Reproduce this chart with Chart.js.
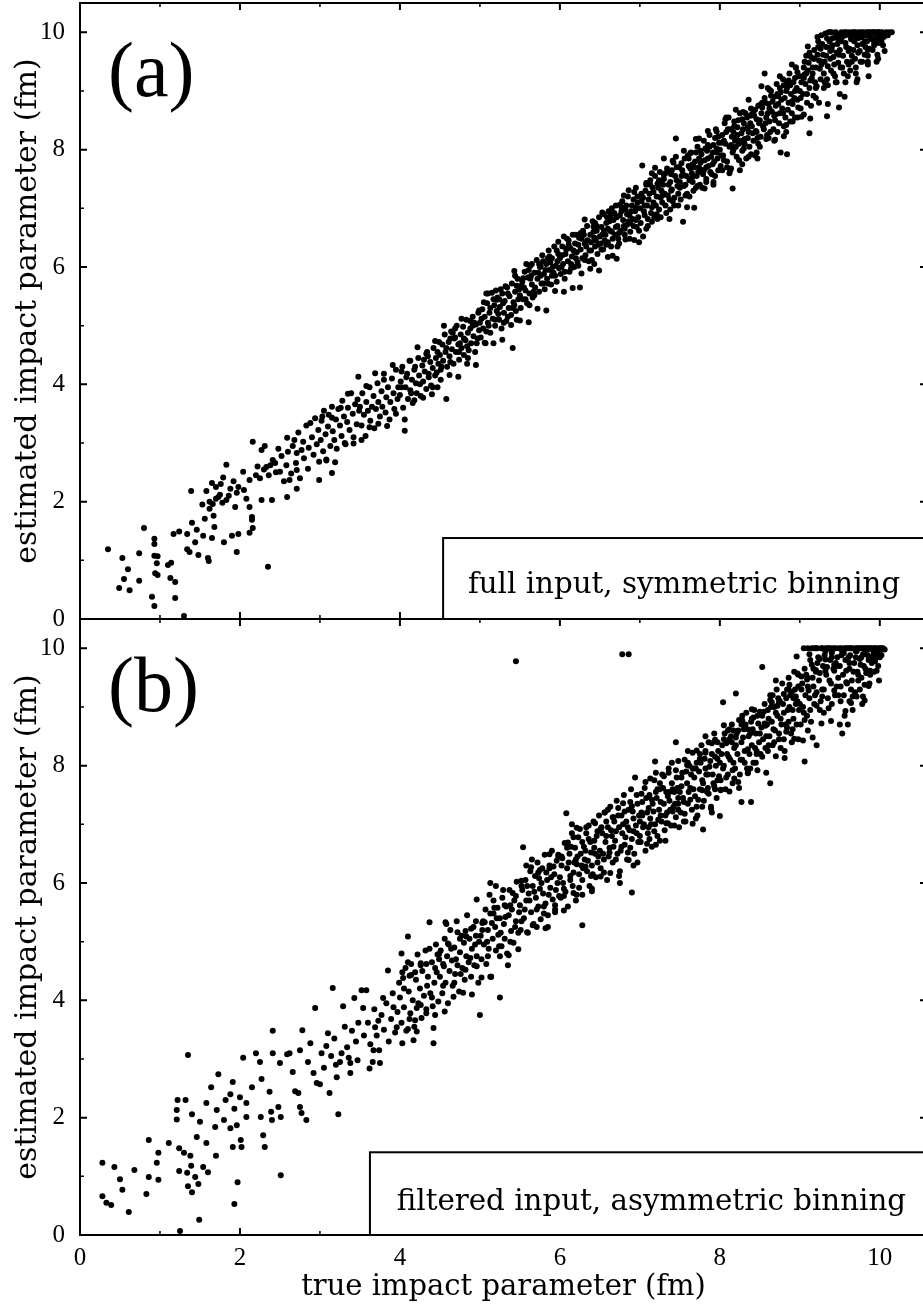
<!DOCTYPE html>
<html><head><meta charset="utf-8">
<script src="https://cdn.jsdelivr.net/npm/chart.js@4.4.1/dist/chart.umd.min.js"></script>
<style>
html,body{margin:0;padding:0;background:#fff;overflow:hidden;width:923px;height:1311px;}
#wrap{position:relative;width:923px;height:1311px;overflow:hidden;background:#fff;}
canvas{position:absolute;left:0;}
#ca{top:0;} #cb{top:600px;}
</style></head><body>
<div id="wrap"><canvas id="ca" width="940" height="640"></canvas><canvas id="cb" width="940" height="711"></canvas></div>
<script>
// ---- tick labels / texts ----
const xMajorTicks=[0,2,4,6,8,10];
const xMinorTicks=[1,3,5,7,9];
const yMajorTicks=[0,2,4,6,8,10];
const yMinorTicks=[1,3,5,7,9];
const panelLabels=['(a)','(b)'];
const boxTexts=['full input, symmetric binning','filtered input, asymmetric binning'];
const xTitle='true impact parameter (fm)';
const yTitle='estimated impact parameter (fm)';

// ---- panel (a): [true b, estimated b] ----
const aSparse=[[0.35,1.19],[0.53,1.04],[0.60,0.85],[0.55,0.68],[0.49,0.53],[0.62,0.49],[0.74,1.12],[0.74,0.65],[0.80,1.55],[0.93,1.37],[0.93,1.28],[0.93,1.08],[0.97,1.07],[0.96,0.95],[0.94,0.78],[0.97,0.75],[0.90,0.38],[0.93,0.22],[1.10,0.92],[1.14,0.96],[1.13,0.70],[1.19,0.63],[1.19,0.36],[1.30,0.05],[1.17,1.45],[1.24,1.49],[1.39,2.18],[1.34,1.45],[1.34,1.19],[1.37,1.14],[1.44,1.31],[1.40,1.64],[1.48,1.09],[1.46,1.52],[1.54,1.42],[1.60,1.04],[1.61,0.99],[1.56,1.71],[1.65,1.38],[1.68,1.57],[1.67,1.76],[1.80,1.31],[1.90,1.42],[1.96,1.14],[1.98,1.45],[2.35,0.89],
[1.53,1.95],[1.65,2.32],[1.58,2.18],[1.79,2.41],[1.83,2.63],[1.73,2.08],[1.83,2.03],[1.94,1.91],[1.96,2.15],[1.98,2.25],[2.12,1.91],[2.15,1.74],[2.15,1.69],[2.16,1.55],[2.12,1.47],[2.16,3.02],[2.04,2.51],[2.12,2.37],[2.27,2.88],[2.27,2.03],[2.40,2.03],[2.31,2.95],[2.44,2.66],[2.48,2.90],[2.59,3.09],[2.59,2.08],[2.71,2.22],[2.71,2.54],[2.71,2.83],[2.62,2.37],[2.50,2.51],[2.41,2.71],[2.33,2.59],
[1.62,2.00],[1.66,1.96],[1.70,2.05],[1.75,2.12],[1.78,1.98],[1.86,2.10],[1.88,2.22],[1.92,2.35],[1.70,2.25],[1.62,1.88],[1.76,2.30],[2.05,2.20],[2.08,2.05],[2.20,2.45],[2.22,2.60],[2.25,2.40],[2.30,2.55],[2.36,2.45],[2.38,2.62],[2.45,2.50]];

const aBand=[[2.52,2.78],[2.55,2.35],[2.58,2.62],[2.60,2.85],[2.64,2.48],[2.66,2.95],[2.68,3.05],[2.70,2.66],[2.73,3.18],[2.75,2.40],[2.77,2.88],[2.79,3.02],[2.80,2.74],[2.83,3.30],[2.85,2.56],[2.86,2.92],[2.88,3.34],[2.90,3.10],[2.92,2.80],[2.94,3.42],[2.96,2.98],[2.98,3.22],[2.99,2.68],[2.99,2.37],[3.15,2.49],
[3.01,3.05],[3.02,3.38],[3.04,2.86],[3.05,3.55],[3.07,3.15],[3.08,2.72],[3.10,3.28],[3.11,3.48],[3.13,2.95],[3.15,3.62],[3.16,3.20],[3.18,3.05],[3.20,3.40],[3.21,2.90],[3.23,3.58],[3.25,3.30],[3.27,3.12],[3.28,3.72],[3.30,3.45],[3.32,2.98],[3.34,3.36],[3.35,3.60],[3.37,3.22],[3.39,3.85],[3.41,3.50],[3.42,3.10],[3.44,3.66],[3.46,3.32],[3.48,4.13],[3.49,3.55],
[3.50,3.62],[3.52,3.30],[3.53,3.85],[3.55,3.48],[3.57,3.12],[3.58,3.70],[3.60,3.55],[3.62,3.95],[3.63,3.38],[3.65,3.62],[3.67,3.80],[3.68,3.25],[3.70,3.58],[3.72,4.02],[3.73,3.70],[3.75,3.45],[3.77,3.88],[3.78,3.62],[3.80,4.18],[3.82,3.52],[3.83,3.78],[3.85,3.95],[3.87,3.40],[3.88,3.70],[3.90,4.10],[3.92,3.85],[3.93,3.58],[3.95,4.25],[3.97,3.75],[3.98,3.95],
[4.00,3.82],[4.01,4.05],[4.03,4.30],[4.04,3.60],[4.06,3.21],[4.07,3.95],[4.09,4.18],[4.10,3.75],[4.12,4.40],[4.13,3.90],[4.15,4.08],[4.16,3.68],[4.18,4.25],[4.20,4.02],[4.21,3.85],[4.23,4.45],[4.24,4.15],[4.26,3.80],[4.28,4.32],[4.29,4.05],[4.31,4.22],[4.33,3.92],[4.34,4.55],[4.36,4.12],[4.38,4.38],[4.39,3.98],[4.41,4.28],[4.42,4.62],[4.44,4.15],[4.45,4.45],[4.47,3.95],[4.48,4.35],[4.49,4.72],[4.46,4.20],[4.35,4.48],
[4.50,4.50],[4.51,4.25],[4.53,4.68],[4.54,4.40],[4.56,4.85],[4.58,3.75],[4.57,4.55],[4.59,4.30],[4.61,4.72],[4.62,4.48],[4.64,4.90],[4.65,4.60],[4.67,4.35],[4.68,4.78],[4.70,4.55],[4.71,5.00],[4.73,4.68],[4.74,4.42],[4.76,4.85],[4.77,4.62],[4.79,4.98],[4.80,4.50],[4.82,4.75],[4.83,5.10],[4.85,4.88],[4.86,4.58],[4.88,4.95],[4.89,4.70],[4.91,5.15],[4.92,4.82],[4.94,4.55],[4.95,5.02],[4.97,4.78],[4.98,5.22],[4.99,4.92],[4.63,4.78],[4.69,4.95],[4.75,4.70],[4.84,4.65],[4.93,5.05],
[5.00,5.05],[5.01,4.80],[5.03,5.28],[5.04,4.95],[5.06,5.15],[5.07,4.70],[5.09,5.38],[5.10,5.05],[5.12,5.22],[5.13,4.88],[5.15,5.56],[5.16,5.12],[5.18,5.35],[5.19,5.00],[5.21,5.25],[5.22,5.48],[5.24,5.10],[5.25,5.32],[5.27,4.95],[5.28,5.55],[5.30,5.22],[5.31,5.42],[5.33,5.08],[5.34,5.65],[5.36,5.30],[5.37,5.50],[5.39,5.18],[5.40,5.72],[5.41,4.62],[5.42,5.40],[5.44,5.58],[5.45,5.25],[5.47,5.80],[5.48,5.45],[5.49,5.62],[5.05,5.40],[5.11,5.00],[5.17,5.45],[5.23,5.20],[5.29,5.38],[5.35,5.15],[5.43,5.35],[5.46,5.68],[5.20,5.60],
[5.50,5.52],[5.51,5.30],[5.53,5.75],[5.54,5.45],[5.56,5.92],[5.57,5.60],[5.59,5.38],[5.60,5.82],[5.62,5.55],[5.63,6.02],[5.65,5.70],[5.66,5.48],[5.68,5.90],[5.69,5.65],[5.71,6.12],[5.72,5.80],[5.74,5.58],[5.75,6.00],[5.77,5.72],[5.78,6.20],[5.80,5.88],[5.81,5.62],[5.83,6.05],[5.84,5.80],[5.86,6.28],[5.87,5.95],[5.89,5.70],[5.90,6.15],[5.92,5.90],[5.93,6.35],[5.95,6.02],[5.96,5.75],[5.98,6.22],[5.99,5.98],[5.55,5.65],[5.61,5.95],[5.67,5.58],[5.73,5.90],[5.79,6.10],[5.85,5.72],[5.91,6.00],[5.97,6.10],[5.64,5.85],[5.76,5.85],[5.82,5.95],[5.88,6.08],[5.94,5.85],[5.58,6.05],
[6.00,6.15],[6.01,5.88],[6.03,6.35],[6.04,6.05],[6.06,5.80],[6.07,6.22],[6.09,6.48],[6.10,6.10],[6.12,5.92],[6.13,6.32],[6.15,6.18],[6.16,6.55],[6.18,6.00],[6.19,6.40],[6.21,6.25],[6.22,6.08],[6.24,6.50],[6.25,5.65],[6.26,6.30],[6.28,6.15],[6.29,6.62],[6.31,6.40],[6.32,6.20],[6.34,6.70],[6.35,6.45],[6.37,6.28],[6.38,6.55],[6.40,6.12],[6.41,6.78],[6.43,6.50],[6.44,6.35],[6.46,6.62],[6.47,6.22],[6.49,6.85],[6.50,6.52],[6.02,6.00],[6.08,6.30],[6.14,6.05],[6.20,6.15],[6.23,6.38],[6.27,6.48],[6.33,6.35],[6.36,6.10],[6.39,6.42],[6.42,6.60],[6.45,6.45],[6.48,6.38],[6.11,6.45],[6.17,6.28],[6.30,6.55],[6.44,6.75],[6.05,6.52],
[6.51,6.40],[6.52,6.68],[6.54,6.30],[6.55,6.90],[6.57,6.55],[6.58,6.75],[6.60,6.42],[6.61,6.95],[6.63,6.62],[6.64,6.35],[6.66,6.19],[6.67,6.80],[6.69,6.55],[6.70,7.05],[6.72,6.70],[6.73,6.48],[6.75,6.88],[6.76,6.62],[6.78,7.12],[6.79,6.80],[6.81,6.55],[6.82,6.98],[6.84,6.72],[6.85,7.20],[6.87,6.88],[6.88,6.60],[6.90,7.05],[6.91,6.82],[6.93,7.28],[6.94,6.95],[6.96,6.68],[6.97,7.10],[6.99,6.42],[6.53,6.55],[6.56,6.45],[6.59,6.85],[6.62,6.78],[6.65,6.60],[6.68,6.92],[6.71,6.85],[6.74,6.58],[6.77,6.95],[6.80,6.70],[6.83,7.05],[6.86,6.78],[6.89,6.95],[6.92,6.70],[6.95,7.02],[6.98,6.85],[6.65,7.00],[6.72,6.35],[6.80,7.22],[6.87,6.48],[6.95,7.35],[6.60,6.65],
[7.00,7.00],[7.01,6.75],[7.03,7.73],[7.04,7.18],[7.06,6.88],[7.07,7.30],[7.09,7.05],[7.10,6.70],[7.12,7.25],[7.13,7.48],[7.15,7.02],[7.16,7.35],[7.18,6.85],[7.19,7.55],[7.21,7.20],[7.22,7.42],[7.24,6.98],[7.25,7.62],[7.27,7.30],[7.28,7.10],[7.30,7.50],[7.31,7.25],[7.33,6.92],[7.34,7.68],[7.36,7.40],[7.37,7.15],[7.39,7.58],[7.40,7.32],[7.42,7.78],[7.43,7.05],[7.45,8.19],[7.46,7.48],[7.48,7.25],[7.49,7.70],[7.02,7.12],[7.05,6.95],[7.08,7.40],[7.11,7.15],[7.14,6.92],[7.17,7.28],[7.20,7.05],[7.23,7.35],[7.26,7.18],[7.29,7.40],[7.32,7.60],[7.35,7.22],[7.38,7.45],[7.41,7.12],[7.44,7.55],[7.47,7.38],[7.15,7.60],[7.22,6.82],[7.30,7.85],[7.38,6.98],[7.45,7.88],[7.08,6.65],[7.26,7.45],[7.40,7.65],
[7.50,7.45],[7.51,7.15],[7.53,7.65],[7.54,6.77],[7.55,7.38],[7.56,7.85],[7.58,7.55],[7.59,7.25],[7.61,7.72],[7.62,7.48],[7.64,7.95],[7.65,7.60],[7.67,7.30],[7.68,7.01],[7.69,7.80],[7.71,7.55],[7.72,8.05],[7.74,7.70],[7.75,7.40],[7.77,7.92],[7.78,7.65],[7.80,8.15],[7.81,7.82],[7.83,7.50],[7.84,7.98],[7.86,7.72],[7.87,8.25],[7.89,7.88],[7.90,7.58],[7.92,8.08],[7.93,7.80],[7.95,8.35],[7.96,7.95],[7.98,7.65],[7.99,8.12],[7.52,7.55],[7.57,7.40],[7.60,7.90],[7.63,7.68],[7.66,7.45],[7.70,7.95],[7.73,7.62],[7.76,7.78],[7.79,7.58],[7.82,8.02],[7.85,7.85],[7.88,7.62],[7.91,7.95],[7.94,8.20],[7.97,7.85],[7.62,7.20],[7.70,8.18],[7.78,7.35],[7.85,8.32],[7.92,7.45],[7.55,7.98],[7.66,7.75],[7.74,7.85],[7.83,7.70],[7.96,8.02],
[8.00,8.00],[8.01,7.72],[8.03,8.25],[8.04,7.90],[8.06,8.45],[8.07,8.10],[8.09,7.80],[8.10,8.35],[8.12,8.05],[8.13,7.65],[8.15,8.22],[8.16,7.95],[8.16,7.34],[8.18,8.48],[8.19,8.15],[8.21,7.88],[8.22,8.38],[8.24,8.10],[8.25,8.62],[8.27,8.28],[8.28,7.98],[8.30,8.45],[8.31,8.18],[8.33,7.85],[8.34,8.55],[8.36,8.30],[8.37,8.05],[8.39,8.70],[8.40,8.40],[8.42,8.15],[8.43,8.58],[8.45,8.32],[8.46,7.95],[8.48,8.75],[8.49,8.45],[8.02,8.12],[8.05,7.82],[8.08,8.30],[8.11,8.55],[8.14,8.08],[8.17,8.30],[8.20,8.05],[8.23,8.50],[8.26,8.15],[8.29,8.35],[8.32,8.62],[8.35,8.20],[8.38,8.45],[8.41,8.28],[8.44,8.68],[8.47,8.20],[8.12,7.60],[8.20,8.68],[8.28,7.75],[8.36,8.85],[8.44,7.90],[8.08,8.55],[8.22,8.25],[8.30,8.02],[8.38,8.58],[8.46,8.52],[8.48,8.10],
[8.50,8.50],[8.51,8.22],[8.53,8.72],[8.54,8.40],[8.56,9.30],[8.56,8.88],[8.58,8.55],[8.59,8.25],[8.61,8.78],[8.62,8.48],[8.64,9.00],[8.65,8.65],[8.67,8.35],[8.68,8.90],[8.70,8.60],[8.71,9.12],[8.73,8.78],[8.74,8.45],[8.76,7.95],[8.76,8.98],[8.78,8.70],[8.79,9.20],[8.81,8.88],[8.82,8.55],[8.84,7.92],[8.84,9.05],[8.86,8.80],[8.87,9.30],[8.89,8.95],[8.90,8.62],[8.92,9.15],[8.93,8.88],[8.95,9.40],[8.96,9.05],[8.98,8.72],[8.99,9.25],[8.52,8.62],[8.55,8.35],[8.57,8.80],[8.60,8.62],[8.63,8.30],[8.66,8.82],[8.69,8.50],[8.72,8.95],[8.75,8.62],[8.77,8.85],[8.80,8.40],[8.83,9.00],[8.85,8.68],[8.88,9.10],[8.91,8.78],[8.94,9.00],[8.97,8.85],[8.60,9.05],[8.68,8.15],[8.75,9.25],[8.83,8.30],[8.90,9.45],[8.97,8.55],[8.62,8.70],[8.70,8.75],[8.80,9.10],[8.88,8.48],[8.94,9.22],[8.52,9.08],
[9.00,9.00],[9.01,8.70],[9.03,9.25],[9.04,8.95],[9.06,9.50],[9.07,9.12],[9.09,8.80],[9.10,9.76],[9.10,9.35],[9.12,8.28],[9.12,9.05],[9.14,9.58],[9.15,9.22],[9.17,8.92],[9.18,9.70],[9.20,9.40],[9.21,9.08],[9.23,9.85],[9.24,9.52],[9.26,9.20],[9.27,9.95],[9.29,9.62],[9.30,9.30],[9.32,9.98],[9.33,9.75],[9.35,9.42],[9.36,10.00],[9.38,9.68],[9.39,9.35],[9.41,9.90],[9.42,9.58],[9.44,9.25],[9.45,10.00],[9.47,9.80],[9.48,9.48],[9.49,9.95],[9.02,9.15],[9.05,8.60],[9.08,9.30],[9.11,9.48],[9.13,9.18],[9.16,9.40],[9.19,9.15],[9.22,9.62],[9.25,9.38],[9.28,9.80],[9.31,9.50],[9.34,9.20],[9.37,9.85],[9.40,9.70],[9.43,9.45],[9.46,9.65],[9.05,9.40],[9.14,8.75],[9.22,9.92],[9.30,9.05],[9.38,10.00],[9.45,9.15],[9.08,9.60],[9.18,9.55],[9.26,9.72],[9.33,9.60],[9.41,9.78],[9.48,9.88],[9.20,8.88],[9.35,9.10],[9.49,8.72],[9.34,8.57],
[9.50,9.70],[9.51,9.40],[9.53,9.92],[9.54,9.60],[9.56,10.00],[9.57,9.82],[9.59,9.50],[9.60,9.98],[9.62,9.72],[9.63,9.95],[9.65,9.60],[9.66,10.00],[9.68,9.85],[9.69,9.55],[9.71,9.98],[9.72,9.78],[9.74,10.00],[9.75,9.68],[9.77,9.92],[9.78,9.80],[9.80,10.00],[9.81,9.62],[9.83,9.95],[9.84,9.85],[9.86,10.00],[9.87,9.72],[9.89,9.96],[9.90,9.88],[9.92,10.00],[9.93,9.78],[9.95,9.98],[9.96,9.90],[9.98,10.00],[9.99,9.82],[10.01,9.96],[10.03,10.00],[10.05,9.92],[10.08,10.00],[10.15,10.00],[9.52,9.85],[9.55,9.30],[9.58,9.75],[9.61,9.45],[9.64,9.88],[9.67,9.70],[9.70,9.40],[9.73,9.90],[9.76,9.50],[9.79,9.95],[9.82,9.75],[9.85,9.60],[9.88,9.92],[9.91,9.70],[9.94,9.85],[9.97,9.62],[10.00,9.95],[9.58,10.00],[9.64,9.98],[9.70,10.00],[9.76,9.98],[9.82,9.98],[9.88,10.00],[9.94,10.00],[10.02,9.85],[9.60,9.25],[9.72,9.20],[9.85,9.45],[9.98,9.55],[9.56,8.90],[9.71,9.15],[9.86,9.25],[9.96,9.50],[10.06,9.68]];

const aEdge=[[3.03,3.45],[3.08,2.70],[3.15,3.43],[3.19,2.67],[3.26,3.60],[3.31,3.00],[3.35,3.84],[3.42,2.99],[3.47,3.74],[3.52,3.05],[3.58,3.97],[3.62,3.27],[3.69,4.19],[3.73,3.33],[3.80,4.08],[3.84,3.29],[3.91,4.33],[3.95,3.50],
[4.02,4.22],[4.06,3.40],[4.13,4.40],[4.18,3.73],[4.22,4.63],[4.29,3.77],[4.33,4.52],[4.40,3.83],[4.44,4.74],[4.51,4.08],[4.55,5.00],[4.62,4.16],[4.66,4.88],[4.73,4.13],[4.77,5.12],[4.84,4.35],[4.88,5.08],[4.95,4.33],[4.99,5.26],
[5.06,4.71],[5.10,5.55],[5.17,4.70],[5.21,5.44],[5.28,4.76],[5.32,5.67],[5.39,5.01],[5.43,5.93],[5.50,5.09],[5.54,5.81],[5.61,5.06],[5.65,6.05],[5.72,5.29],[5.76,6.01],[5.83,5.26],[5.87,6.18],[5.94,5.59],[5.98,6.43],
[6.05,5.58],[6.09,6.32],[6.16,5.64],[6.20,6.55],[6.27,5.89],[6.31,6.81],[6.38,5.97],[6.42,6.69],[6.49,5.94],[6.53,6.93],[6.60,6.17],[6.64,6.89],[6.71,6.14],[6.75,7.06],[6.82,6.47],[6.86,7.31],[6.93,6.46],[6.97,7.20],
[7.04,6.52],[7.08,7.43],[7.15,6.77],[7.19,7.69],[7.26,6.85],[7.30,7.57],[7.37,6.82],[7.41,7.81],[7.48,7.05],[7.52,7.77],[7.59,7.02],[7.63,7.94],[7.70,7.35],[7.74,8.19],[7.81,7.34],[7.85,8.08],[7.92,7.40],[7.96,8.31],
[8.03,7.65],[8.07,8.52],[8.14,7.68],[8.18,8.40],[8.25,7.65],[8.29,8.64],[8.36,7.88],[8.40,8.60],[8.47,7.85],[8.51,8.77],[8.58,8.18],[8.62,9.02],[8.69,8.17],[8.73,8.91],[8.80,8.23],[8.84,9.14],[8.91,8.48],[8.95,9.40],
[9.02,8.56],[9.06,9.28],[9.13,8.53],[9.17,9.55],[9.24,8.80],[9.28,9.50],[9.35,8.78],[9.39,9.75],[9.46,9.15],[9.50,8.95],[9.57,9.15],[9.63,9.35],[9.70,9.30],[9.78,9.50],[9.85,9.50]];

const aFill=[[4.02,3.95],[4.08,4.12],[4.14,3.85],[4.19,4.30],[4.25,4.00],[4.30,4.42],[4.36,4.18],[4.41,3.95],[4.47,4.55],[4.52,4.30],[4.58,4.62],[4.63,4.38],[4.69,4.80],[4.74,4.55],[4.80,4.78],[4.85,4.45],[4.91,5.00],[4.96,4.70],[5.02,5.12],[5.08,4.90],[5.13,5.30],[5.19,5.10],[5.24,5.45],[5.30,5.05],[5.35,5.55],[5.41,5.30],[5.46,5.10],[5.52,5.68],[5.57,5.45],[5.63,5.80],[5.68,5.52],[5.74,6.05],[5.79,5.72],[5.85,6.15],[5.90,5.85],[5.96,6.28],[5.62,5.35],[5.44,5.85],[5.26,5.62],[5.08,5.55],
[6.03,6.20],[6.06,5.92],[6.11,6.38],[6.14,5.98],[6.19,6.25],[6.23,6.02],[6.26,6.58],[6.31,6.12],[6.34,6.45],[6.39,6.28],[6.43,6.05],[6.46,6.70],[6.52,6.30],[6.55,6.62],[6.58,6.38],[6.63,6.85],[6.66,6.48],[6.70,6.68],[6.74,6.40],[6.77,7.02],[6.81,6.65],[6.84,6.90],[6.88,6.75],[6.92,7.15],[6.95,6.80],[6.99,6.62],[7.02,7.25],[7.06,7.05],[7.10,6.82],[7.13,7.40],[7.17,7.10],[7.21,6.90],[7.24,7.48],[7.28,7.22],[7.32,7.05],[7.35,7.62],[7.39,7.30],[7.43,7.18],[7.46,7.70],[7.50,7.35],[7.54,7.58],[7.57,7.22],[7.61,7.85],[7.65,7.52],[7.68,7.70],[7.72,7.38],[7.76,7.98],[7.80,7.65],[7.83,7.45],[7.87,8.05],[7.91,7.75],[7.94,7.55],[7.98,8.22],[8.02,7.90],[8.05,8.15],[8.09,7.70],[8.13,8.35],[8.17,8.00],[8.20,8.20],[8.24,7.82],[8.28,8.52],[8.31,8.10],[8.35,8.38],[8.39,7.92],[8.42,8.65],[8.46,8.30],[8.50,8.05],[8.53,8.80],[8.57,8.45],[8.61,8.20],[8.64,8.92],[8.68,8.58],[8.72,8.30],[8.75,9.05],[8.79,8.62],[8.83,8.42],[8.86,9.18],[8.90,8.82],[8.94,8.55],[8.97,9.32],[9.01,8.88],[9.05,9.22],[9.09,8.95],[9.12,9.65],[9.16,9.30],[9.20,9.05],[9.23,9.75],[9.27,9.45],[9.31,9.15],[9.34,9.90],[9.38,9.55],[9.42,9.30],[9.45,9.92],[9.49,9.62],[9.53,9.40],[9.57,9.95],[9.61,9.68],[9.65,9.50],[9.69,9.92],[9.73,9.65],[9.77,10.00],[9.81,9.85],[9.85,9.70],[9.89,9.95],[9.93,9.82],[9.97,10.00],[10.01,9.90],[10.04,9.78],[10.10,9.95],[9.40,10.00],[9.52,10.00],[9.62,10.00],[9.68,10.00],[9.84,10.00],[9.91,10.00],[10.00,10.00],[10.12,10.00]];

// ---- panel (b): [true b, estimated b] ----
const bSparse=[[0.28,1.23],[0.28,0.66],[0.33,0.55],[0.39,0.51],[0.43,1.16],[0.50,0.95],[0.53,0.77],[0.61,0.39],[0.68,1.11],[0.83,0.70],[0.86,0.99],[0.86,1.62],[0.96,1.23],[0.98,1.40],[0.98,0.94],[1.11,1.57],[1.22,2.30],[1.32,2.30],[1.21,2.13],[1.21,1.97],[1.35,3.07],[1.24,1.48],[1.30,1.40],[1.24,1.09],[1.34,1.06],[1.38,1.35],[1.39,1.18],[1.35,0.83],[1.40,0.73],[1.40,2.06],[1.44,0.99],[1.48,0.87],[1.49,0.26],[1.25,0.07],[1.46,1.67],[1.50,1.93],[1.54,1.16],[1.58,1.57],[1.60,1.07],[1.58,2.25],[1.64,2.52],[1.69,1.84],[1.70,1.35],[1.73,2.74],[1.71,2.13],[1.80,1.96],[1.82,2.30],[1.88,1.82],[1.91,1.50],[1.93,0.53],[1.97,0.90],[2.02,1.50],[2.01,1.62],[1.91,2.61],[1.93,2.15],[1.88,2.40],[1.96,1.87],[2.04,3.02],[2.00,2.35],[2.08,2.01],[2.08,2.25],[2.15,2.52],[2.20,3.10],[2.25,2.95],[2.27,2.66],[2.26,2.01],[2.29,1.70],[2.31,1.50],[2.37,2.44],[2.39,2.10],[2.40,1.96],[2.41,3.10],[2.41,3.48],[2.50,2.93],[2.51,1.02],[2.51,2.01],[2.48,2.18],[2.59,3.08],[2.62,3.10],[2.66,2.78],[2.69,2.45],[2.73,2.42],[2.75,2.18],[2.77,2.08],[2.83,1.96],[2.75,3.15],[2.78,3.49],[2.88,3.27],[2.85,2.95],[2.92,2.76],[2.94,3.87],[2.96,2.59],[3.00,2.57],[3.02,3.10],[3.08,3.22],[3.10,3.44],[3.12,2.42],[3.16,4.21],[3.20,2.90],[3.23,2.06],[3.21,2.69],[3.25,2.95],[3.29,3.90],[3.34,3.20],[3.38,2.76],[3.38,2.93],[3.43,4.04],[3.52,4.17],[3.58,4.17],[3.54,3.87],[3.62,2.84],[3.66,2.95],[3.67,3.15],[3.69,3.54],[3.73,3.65],[3.75,2.93],[3.79,4.04],[3.85,4.51],[3.92,3.88],[3.96,3.54],[4.03,3.27],[4.10,5.09],[4.02,4.80],[4.10,4.65],[4.17,3.32],[4.19,3.66],[4.21,3.87],[4.37,5.33],[4.42,3.53],[4.42,3.27],[4.57,5.33],[5.14,4.40],[4.96,5.72],[5.13,6.00]];

const bBand=[[3.05,2.85],[3.14,3.05],[3.18,3.35],[3.27,3.10],[3.31,3.55],[3.36,3.02],[3.45,3.30],[3.48,3.62],[3.40,3.48],[3.47,2.98],
[3.55,3.40],[3.60,3.62],[3.63,3.25],[3.68,3.85],[3.71,3.40],[3.74,3.15],[3.77,3.75],[3.80,3.50],[3.83,3.95],[3.86,3.30],[3.89,3.68],[3.91,4.12],[3.94,3.45],[3.97,3.80],[3.99,4.30],
[4.00,4.05],[4.02,3.62],[4.04,4.38],[4.05,3.88],[4.07,4.55],[4.08,3.48],[4.11,4.15],[4.13,3.78],[4.14,4.62],[4.16,4.00],[4.18,3.55],[4.20,4.35],[4.22,4.78],[4.23,3.95],[4.25,4.20],[4.27,3.70],[4.28,4.50],[4.30,4.08],[4.32,4.85],[4.33,3.85],[4.35,4.40],[4.38,4.12],[4.40,4.65],[4.41,3.90],[4.43,4.30],[4.45,4.95],[4.46,4.48],[4.48,3.98],[4.49,4.70],[4.12,4.42],[4.26,4.60],[4.34,4.25],[4.44,4.55],
[4.50,4.40],[4.51,4.85],[4.53,4.12],[4.54,4.62],[4.56,5.05],[4.57,4.30],[4.59,4.75],[4.60,3.95],[4.62,4.50],[4.63,5.20],[4.65,4.68],[4.66,4.25],[4.68,4.90],[4.69,4.45],[4.71,5.35],[4.72,4.60],[4.74,4.15],[4.75,4.82],[4.77,5.10],[4.78,4.55],[4.80,4.98],[4.81,4.35],[4.83,4.75],[4.84,5.45],[4.86,4.65],[4.87,5.05],[4.89,4.40],[4.90,4.88],[4.92,5.25],[4.93,4.60],[4.95,5.10],[4.96,4.75],[4.98,4.30],[4.99,5.00],[4.55,4.58],[4.64,4.88],[4.70,4.70],[4.76,4.45],[4.82,5.18],[4.88,4.72],[4.94,4.95],[4.58,5.30],
[5.00,3.75],[5.01,5.10],[5.02,4.70],[5.04,5.35],[5.05,4.95],[5.07,5.55],[5.08,4.62],[5.10,5.20],[5.11,4.88],[5.13,5.48],[5.14,4.40],[5.16,5.05],[5.17,5.70],[5.19,5.25],[5.20,4.85],[5.22,5.58],[5.23,5.12],[5.25,4.05],[5.25,5.40],[5.27,4.92],[5.28,5.75],[5.30,5.30],[5.31,5.05],[5.33,5.60],[5.34,4.80],[5.36,5.45],[5.37,5.88],[5.39,5.18],[5.40,5.55],[5.42,4.98],[5.43,5.70],[5.45,5.35],[5.46,6.02],[5.48,5.15],[5.49,5.50],[5.03,5.20],[5.09,5.00],[5.15,5.32],[5.21,5.40],[5.26,5.15],[5.32,5.42],[5.38,5.62],[5.44,5.25],[5.45,9.78],[5.12,5.80],[5.35,4.60],
[5.50,5.62],[5.51,5.20],[5.53,5.88],[5.54,6.61],[5.55,5.40],[5.57,6.05],[5.58,5.70],[5.60,5.15],[5.61,5.82],[5.63,6.20],[5.64,5.50],[5.66,5.95],[5.67,5.30],[5.69,6.12],[5.70,5.75],[5.72,6.35],[5.73,5.60],[5.75,5.90],[5.76,5.38],[5.78,6.25],[5.79,5.82],[5.81,6.48],[5.82,5.65],[5.84,6.05],[5.85,5.45],[5.87,6.30],[5.88,5.92],[5.90,6.55],[5.91,5.72],[5.93,6.15],[5.94,5.50],[5.96,6.38],[5.97,6.00],[5.99,5.78],[5.52,5.95],[5.56,5.55],[5.62,5.70],[5.68,5.85],[5.71,5.55],[5.74,6.08],[5.77,6.00],[5.80,5.60],[5.83,6.18],[5.86,5.80],[5.89,6.10],[5.92,6.28],[5.95,5.88],[5.98,6.45],[5.65,6.40],[5.85,5.25],
[6.00,6.10],[6.01,5.75],[6.03,6.42],[6.04,6.00],[6.06,6.68],[6.08,7.19],[6.07,5.85],[6.09,6.25],[6.10,5.60],[6.12,6.50],[6.13,6.12],[6.15,6.85],[6.16,5.95],[6.18,6.35],[6.19,6.60],[6.21,5.80],[6.22,6.45],[6.24,6.15],[6.25,6.92],[6.27,6.30],[6.28,5.28],[6.28,6.05],[6.30,6.62],[6.31,6.40],[6.33,6.95],[6.34,6.20],[6.36,6.75],[6.37,5.95],[6.39,6.52],[6.40,6.30],[6.42,7.05],[6.43,6.60],[6.45,6.10],[6.46,6.80],[6.48,6.45],[6.49,7.15],[6.02,6.30],[6.05,5.90],[6.11,6.35],[6.14,6.62],[6.17,6.18],[6.20,6.40],[6.23,6.78],[6.26,6.50],[6.29,6.25],[6.32,6.55],[6.35,6.38],[6.38,6.70],[6.41,6.15],[6.44,6.50],[6.47,6.88],[6.20,5.70],[6.40,5.90],[6.15,7.00],
[6.50,6.55],[6.51,6.25],[6.53,6.85],[6.54,6.50],[6.56,7.20],[6.57,6.70],[6.59,6.05],[6.60,6.95],[6.62,6.60],[6.63,7.30],[6.65,6.80],[6.66,6.35],[6.68,7.05],[6.69,6.72],[6.71,7.40],[6.72,6.50],[6.74,6.95],[6.75,6.20],[6.77,7.15],[6.78,6.85],[6.78,9.90],[6.80,7.50],[6.81,6.65],[6.83,7.05],[6.84,6.40],[6.86,9.90],[6.86,7.25],[6.87,6.90],[6.89,7.60],[6.90,5.84],[6.90,6.75],[6.92,7.10],[6.93,6.50],[6.94,7.80],[6.95,6.98],[6.97,7.35],[6.98,6.70],[6.99,7.15],[6.52,6.95],[6.55,6.40],[6.58,6.80],[6.61,6.45],[6.64,6.90],[6.67,6.62],[6.70,6.88],[6.73,7.15],[6.76,6.55],[6.79,7.00],[6.82,6.78],[6.85,6.95],[6.88,6.60],[6.91,7.22],[6.96,6.85],[6.60,7.25],[6.75,6.00],[6.92,6.30],
[7.00,7.05],[7.01,6.70],[7.03,7.38],[7.04,6.95],[7.06,7.62],[7.07,6.55],[7.09,7.20],[7.10,6.85],[7.12,7.50],[7.13,7.10],[7.15,6.62],[7.16,7.35],[7.18,7.75],[7.19,8.07],[7.19,7.00],[7.21,7.45],[7.22,6.80],[7.24,7.25],[7.25,7.60],[7.27,7.05],[7.28,7.85],[7.30,7.35],[7.31,6.90],[7.33,7.55],[7.34,7.20],[7.36,7.95],[7.37,7.40],[7.39,6.98],[7.40,7.70],[7.42,7.30],[7.43,7.55],[7.45,8.40],[7.45,7.12],[7.46,7.80],[7.48,7.45],[7.49,6.95],[7.02,7.20],[7.05,7.00],[7.08,7.45],[7.11,7.28],[7.14,7.00],[7.17,7.22],[7.20,7.55],[7.23,7.08],[7.26,7.38],[7.29,7.62],[7.32,7.15],[7.35,7.48],[7.38,7.25],[7.41,7.60],[7.44,7.35],[7.47,7.62],[7.12,6.75],[7.25,6.72],[7.35,7.02],[7.40,8.05],[7.20,7.88],[7.48,7.25],
[7.50,7.55],[7.51,7.20],[7.53,7.88],[7.54,7.45],[7.56,8.10],[7.57,7.05],[7.59,7.70],[7.60,7.35],[7.62,8.00],[7.63,7.62],[7.65,7.25],[7.66,8.22],[7.68,7.80],[7.69,7.48],[7.71,8.05],[7.72,7.15],[7.74,7.90],[7.75,7.60],[7.77,8.35],[7.78,7.75],[7.79,6.91],[7.80,7.40],[7.81,8.12],[7.83,7.85],[7.84,7.55],[7.86,8.40],[7.87,7.98],[7.89,7.30],[7.90,8.20],[7.92,7.70],[7.93,8.55],[7.95,8.00],[7.96,7.45],[7.98,8.25],[7.99,7.82],[7.52,7.65],[7.55,7.38],[7.58,7.90],[7.61,7.55],[7.64,7.85],[7.67,7.60],[7.70,7.95],[7.73,7.42],[7.76,8.05],[7.79,7.70],[7.82,7.95],[7.85,7.62],[7.88,8.08],[7.91,7.85],[7.94,8.15],[7.97,7.75],[7.60,8.25],[7.70,7.10],[7.82,8.50],[7.90,7.20],[7.97,8.40],[7.66,7.95],[7.75,8.20],[7.85,7.85],[7.94,7.60],
[8.00,7.14],[8.00,8.05],[8.01,7.75],[8.03,8.35],[8.04,9.08],[8.04,7.95],[8.06,8.55],[8.07,7.60],[8.09,8.20],[8.10,7.85],[8.12,8.45],[8.13,8.10],[8.15,8.70],[8.16,7.70],[8.18,8.30],[8.19,7.95],[8.20,9.23],[8.21,8.55],[8.22,8.20],[8.24,8.78],[8.25,7.85],[8.27,7.38],[8.27,8.40],[8.28,8.10],[8.30,8.62],[8.31,8.25],[8.33,8.90],[8.34,7.95],[8.36,8.50],[8.37,8.20],[8.39,7.38],[8.39,8.75],[8.40,8.35],[8.42,8.05],[8.43,8.95],[8.45,8.55],[8.46,8.20],[8.48,8.72],[8.49,8.40],[8.02,8.20],[8.05,8.00],[8.08,8.38],[8.11,8.15],[8.14,8.50],[8.17,8.05],[8.20,8.35],[8.23,8.60],[8.26,8.10],[8.29,8.48],[8.32,8.70],[8.35,8.28],[8.38,8.55],[8.41,8.62],[8.44,8.30],[8.47,8.85],[8.10,8.60],[8.18,7.78],[8.28,8.85],[8.35,7.88],[8.45,8.05],[8.15,8.40],[8.40,8.80],
[8.50,8.55],[8.51,8.20],[8.53,9.68],[8.53,8.85],[8.54,8.45],[8.56,9.05],[8.57,8.30],[8.59,8.70],[8.60,8.95],[8.62,8.50],[8.63,7.70],[8.63,9.20],[8.65,8.75],[8.66,8.35],[8.68,9.00],[8.69,8.60],[8.71,9.30],[8.72,8.85],[8.74,8.45],[8.75,9.10],[8.77,8.70],[8.78,9.40],[8.80,8.90],[8.81,8.25],[8.83,9.15],[8.84,8.65],[8.86,9.50],[8.87,9.00],[8.89,8.55],[8.90,9.25],[8.92,8.80],[8.93,9.60],[8.95,9.05],[8.96,9.86],[8.96,8.70],[8.98,9.35],[8.99,8.95],[8.52,8.65],[8.55,8.92],[8.58,8.50],[8.61,8.80],[8.64,9.00],[8.67,8.62],[8.70,8.90],[8.73,9.15],[8.76,8.80],[8.79,9.05],[8.82,8.70],[8.85,8.95],[8.88,9.20],[8.91,8.95],[8.94,9.30],[8.97,9.10],[8.60,8.25],[8.70,9.45],[8.80,8.45],[8.90,8.40],[8.98,9.55],[8.66,9.20],[8.74,8.55],[8.84,9.30],[8.92,9.15],[8.56,8.72],[8.86,8.75],
[9.00,9.05],[9.01,8.70],[9.03,9.40],[9.04,9.00],[9.06,8.07],[9.06,9.65],[9.07,9.20],[9.09,8.85],[9.10,9.50],[9.12,9.90],[9.12,9.15],[9.14,8.75],[9.15,9.72],[9.17,9.35],[9.18,10.00],[9.18,9.05],[9.20,9.60],[9.21,8.35],[9.21,9.25],[9.23,9.85],[9.24,9.45],[9.26,9.10],[9.27,10.00],[9.29,9.70],[9.30,9.30],[9.32,9.95],[9.33,9.55],[9.35,9.15],[9.36,10.00],[9.38,9.80],[9.39,9.40],[9.41,9.98],[9.42,9.65],[9.44,9.20],[9.45,10.00],[9.47,9.85],[9.48,9.50],[9.49,10.00],[9.02,9.30],[9.05,8.90],[9.08,9.55],[9.11,9.28],[9.13,9.80],[9.16,9.50],[9.19,9.20],[9.22,9.75],[9.25,9.58],[9.28,9.30],[9.31,9.88],[9.34,9.68],[9.37,9.45],[9.40,9.85],[9.43,9.62],[9.46,9.35],[9.30,8.90],[9.40,9.05],[9.10,8.60],[9.25,8.95],[9.35,10.00],[9.45,9.75],[9.15,10.00],[9.22,10.00],[9.28,10.00],[9.42,10.00],[9.05,10.00],[9.48,9.20],
[9.50,9.70],[9.51,9.35],[9.53,8.55],[9.53,9.95],[9.54,9.55],[9.56,10.00],[9.57,9.80],[9.59,9.40],[9.60,10.00],[9.62,9.65],[9.63,9.88],[9.65,9.45],[9.66,10.00],[9.68,9.75],[9.69,9.25],[9.71,9.95],[9.72,9.60],[9.74,10.00],[9.75,9.82],[9.77,9.50],[9.78,10.00],[9.80,9.70],[9.81,9.11],[9.81,9.92],[9.83,9.58],[9.84,10.00],[9.86,9.80],[9.87,9.40],[9.89,10.00],[9.90,9.75],[9.92,9.95],[9.93,9.60],[9.95,10.00],[9.96,9.85],[9.98,9.70],[9.99,9.45],[10.00,10.00],[10.02,9.88],[10.04,10.00],[10.06,9.98],[9.52,9.88],[9.55,9.20],[9.58,9.62],[9.61,9.85],[9.64,9.30],[9.67,9.60],[9.70,9.85],[9.73,9.45],[9.76,9.72],[9.79,9.90],[9.82,9.65],[9.85,9.88],[9.88,9.62],[9.91,9.85],[9.94,9.78],[9.97,9.92],[9.58,10.00],[9.64,10.00],[9.70,10.00],[9.76,10.00],[9.82,10.00],[9.88,10.00],[9.94,10.00],[10.00,9.85],[9.62,9.10],[9.75,9.30],[9.56,8.85],[9.66,8.95],[9.78,9.05],[9.60,8.70]];

const bEdge=[[4.03,4.48],[4.10,3.51],[4.14,4.43],[4.21,3.47],[4.26,4.63],[4.33,3.78],[4.37,4.88],[4.44,3.75],[4.49,4.79],[4.56,3.81],[4.60,4.97],[4.67,4.06],[4.72,5.16],[4.79,4.13],[4.83,5.09],[4.90,4.10],[4.95,5.35],
[5.02,4.39],[5.06,5.33],[5.13,4.40],[5.18,5.58],[5.25,4.75],[5.29,5.88],[5.36,4.77],[5.41,5.83],[5.48,4.87],[5.52,6.04],[5.59,5.16],[5.64,6.27],[5.71,5.25],[5.75,6.22],[5.82,5.23],[5.87,6.49],[5.94,5.55],[5.98,6.48],
[6.05,5.53],[6.10,6.69],[6.17,5.83],[6.21,6.94],[6.28,5.80],[6.33,6.85],[6.40,5.86],[6.44,7.02],[6.51,6.11],[6.56,7.20],[6.63,6.17],[6.67,7.12],[6.74,6.12],[6.79,7.36],[6.86,6.39],[6.90,7.31],[6.97,6.35],
[7.02,7.52],[7.09,6.67],[7.13,7.78],[7.20,6.65],[7.25,7.70],[7.32,6.72],[7.36,7.88],[7.43,6.98],[7.48,8.08],[7.55,7.05],[7.59,8.01],[7.66,7.01],[7.71,8.26],[7.78,7.30],[7.82,8.22],[7.89,7.27],[7.94,8.44],
[8.01,7.59],[8.05,8.69],[8.12,7.56],[8.17,8.60],[8.24,7.62],[8.28,8.77],[8.35,7.87],[8.40,8.96],[8.47,7.92],[8.51,8.88],[8.58,7.88],[8.63,9.12],[8.70,8.16],[8.74,9.08],[8.81,8.13],[8.86,9.30],[8.93,8.46],[8.97,9.57],
[9.04,8.43],[9.09,9.47],[9.16,8.48],[9.20,9.63],[9.27,8.72],[9.32,9.81],[9.39,8.76],[9.43,9.72],[9.50,8.70],[9.57,8.93],[9.64,9.07],[9.71,9.18],[9.79,9.18],[9.86,9.36]];

const bFill=[[4.05,4.20],[4.12,3.68],[4.19,4.48],[4.26,3.92],[4.33,4.62],[4.40,4.05],[4.47,4.78],[4.54,4.25],[4.61,4.95],[4.68,4.30],[4.75,5.05],[4.82,4.52],[4.89,5.22],[4.96,4.58],[5.03,5.32],[5.10,4.75],[5.17,5.48],[5.24,4.92],[5.31,5.62],[5.38,5.00],[5.45,5.78],[5.52,5.35],[5.59,5.95],[5.66,5.28],[5.73,6.18],[5.80,5.48],[5.87,6.25],[5.94,5.62],[5.58,6.30],[5.20,5.95],
[6.02,6.45],[6.05,5.78],[6.09,6.60],[6.13,6.05],[6.17,6.78],[6.21,6.32],[6.24,5.92],[6.28,6.70],[6.32,6.28],[6.36,6.98],[6.39,6.12],[6.43,6.72],[6.47,6.35],[6.51,6.92],[6.55,6.18],[6.58,7.05],[6.62,6.52],[6.66,7.12],[6.70,6.40],[6.73,7.28],[6.77,6.62],[6.81,7.22],[6.85,6.52],[6.88,7.38],[6.92,6.88],[6.96,7.50],[7.00,6.80],[7.03,7.15],[7.07,7.72],[7.11,6.95],[7.15,7.42],[7.18,6.88],[7.22,7.60],[7.26,7.15],[7.30,7.82],[7.33,7.02],[7.37,7.55],[7.41,7.22],[7.45,7.92],[7.48,7.35],[7.52,7.80],[7.56,7.18],[7.60,8.05],[7.63,7.42],[7.67,7.95],[7.71,7.30],[7.75,8.12],[7.78,7.58],[7.82,8.25],[7.86,7.52],[7.90,8.38],[7.93,7.65],[7.97,8.12],[8.01,7.58],[8.05,8.45],[8.08,7.80],[8.12,8.62],[8.16,7.92],[8.20,8.48],[8.23,7.72],[8.27,8.70],[8.31,8.05],[8.35,8.62],[8.38,7.95],[8.42,8.82],[8.46,8.25],[8.50,8.92],[8.53,8.15],[8.57,8.68],[8.61,8.35],[8.65,9.08],[8.68,8.40],[8.72,9.02],[8.76,8.30],[8.80,9.22],[8.83,8.58],[8.87,9.38],[8.91,8.62],[8.95,9.18],[8.98,8.45],[9.02,9.52],[9.06,8.78],[9.10,9.35],[9.13,8.95],[9.17,9.65],[9.21,9.02],[9.25,9.82],[9.28,9.18],[9.32,9.62],[9.36,8.98],[9.40,9.92],[9.43,9.28],[9.47,9.70],[9.51,9.10],[9.55,9.92],[9.58,9.42],[9.62,9.75],[9.66,9.18],[9.70,9.95],[9.73,9.55],[9.77,9.85],[9.81,9.38],[9.85,9.98],[9.88,9.55],[9.92,9.88],[9.96,9.62],[10.00,9.92],[9.10,10.00],[9.20,10.00],[9.32,10.00],[9.39,10.00],[9.52,10.00],[9.62,10.00],[9.72,10.00],[9.80,10.00],[9.86,10.00],[9.92,10.00],[9.98,10.00],[10.02,10.00]];

// ---- annotation placement (in data units of each panel) ----
const annot=[
  {labelX:0.35,labelY:8.91,boxX:4.54,boxY:1.38,textX:4.85,textY:0.44},
  {labelX:0.35,labelY:8.93,boxX:3.625,boxY:1.41,textX:3.96,textY:0.43}
];

const toXY=arr=>arr.map(p=>({x:p[0],y:p[1]}));
const TICKFONT={family:'Liberation Serif',size:25};
const TITLEFONT='DejaVu Serif';

function framePlugin(i){
  return {id:'frame'+i, afterDraw(chart){
    const {ctx,chartArea:a,scales}=chart; const x=scales.x,y=scales.y;
    ctx.save();
    ctx.strokeStyle='#000'; ctx.fillStyle='#000';
    const tick=(vals,len,lw)=>{
      ctx.lineWidth=lw; ctx.beginPath();
      vals.forEach(v=>{
        const px=x.getPixelForValue(v);
        ctx.moveTo(px,a.bottom); ctx.lineTo(px,a.bottom-len);
        ctx.moveTo(px,a.top); ctx.lineTo(px,a.top+len);
        const py=y.getPixelForValue(v);
        ctx.moveTo(a.left,py); ctx.lineTo(a.left+len,py);
        ctx.moveTo(a.right,py); ctx.lineTo(a.right-len,py);
      });
      ctx.stroke();
    };
    tick(xMajorTicks,7,2); tick(xMinorTicks,4,1.5);
    ctx.lineWidth=2;
    ctx.strokeRect(a.left,a.top,a.right-a.left,a.bottom-a.top);
    const an=annot[i];
    const bx=x.getPixelForValue(an.boxX), by=y.getPixelForValue(an.boxY);
    ctx.fillStyle='#fff'; ctx.fillRect(bx,by,a.right-bx,a.bottom-by);
    ctx.fillStyle='#000';
    ctx.strokeRect(bx,by,a.right-bx+4,a.bottom-by);
    ctx.font='29.3px "'+TITLEFONT+'"'; ctx.textBaseline='alphabetic'; ctx.textAlign='left';
    ctx.fillText(boxTexts[i],x.getPixelForValue(an.textX),y.getPixelForValue(an.textY));
    ctx.font='78px "Liberation Serif"';
    ctx.fillText(panelLabels[i],x.getPixelForValue(an.labelX),y.getPixelForValue(an.labelY));
    ctx.restore();
  }};
}

function yAxis(){
  return {type:'linear',min:0,max:10.5,position:'left',
    afterFit(s){s.width=80;s.paddingTop=0;s.paddingBottom=0;},
    afterBuildTicks(s){s.ticks=yMajorTicks.map(v=>({value:v}));},
    grid:{display:false,drawTicks:false},border:{display:false},
    ticks:{padding:15,color:'#000',font:TICKFONT},
    title:{display:true,text:yTitle,color:'#000',font:{family:TITLEFONT,size:30},padding:{top:10,bottom:0}}};
}

Chart.defaults.color='#000';
Chart.defaults.font.family='Liberation Serif';
const DOT=3.0;

new Chart(document.getElementById('ca'),{
  type:'scatter',
  data:{datasets:[{data:toXY(aSparse.concat(aBand,aEdge,aFill)),pointRadius:DOT,pointHoverRadius:DOT,backgroundColor:'#000',borderWidth:0}]},
  options:{responsive:false,animation:false,devicePixelRatio:1,events:[],
    layout:{padding:{top:3,right:13,bottom:21,left:0}},
    plugins:{legend:{display:false},tooltip:{enabled:false}},
    scales:{x:{type:'linear',min:0,max:10.59,display:false},y:yAxis()}},
  plugins:[framePlugin(0)]
});

new Chart(document.getElementById('cb'),{
  type:'scatter',
  data:{datasets:[{data:toXY(bSparse.concat(bBand,bEdge,bFill)),pointRadius:DOT,pointHoverRadius:DOT,backgroundColor:'#000',borderWidth:0}]},
  options:{responsive:false,animation:false,devicePixelRatio:1,events:[],
    layout:{padding:{top:19,right:13,bottom:0,left:0}},
    plugins:{legend:{display:false},tooltip:{enabled:false}},
    scales:{
      x:{type:'linear',min:0,max:10.59,position:'bottom',
        afterFit(s){s.height=76;s.paddingLeft=0;s.paddingRight=0;},
        afterBuildTicks(s){s.ticks=xMajorTicks.map(v=>({value:v}));},
        grid:{display:false,drawTicks:false},border:{display:false},
        ticks:{padding:8,maxRotation:0,autoSkip:false,color:'#000',font:TICKFONT},
        title:{display:true,text:xTitle,color:'#000',font:{family:TITLEFONT,size:29},padding:{top:0,bottom:6}}},
      y:yAxis()}},
  plugins:[framePlugin(1)]
});
</script>
</body></html>
